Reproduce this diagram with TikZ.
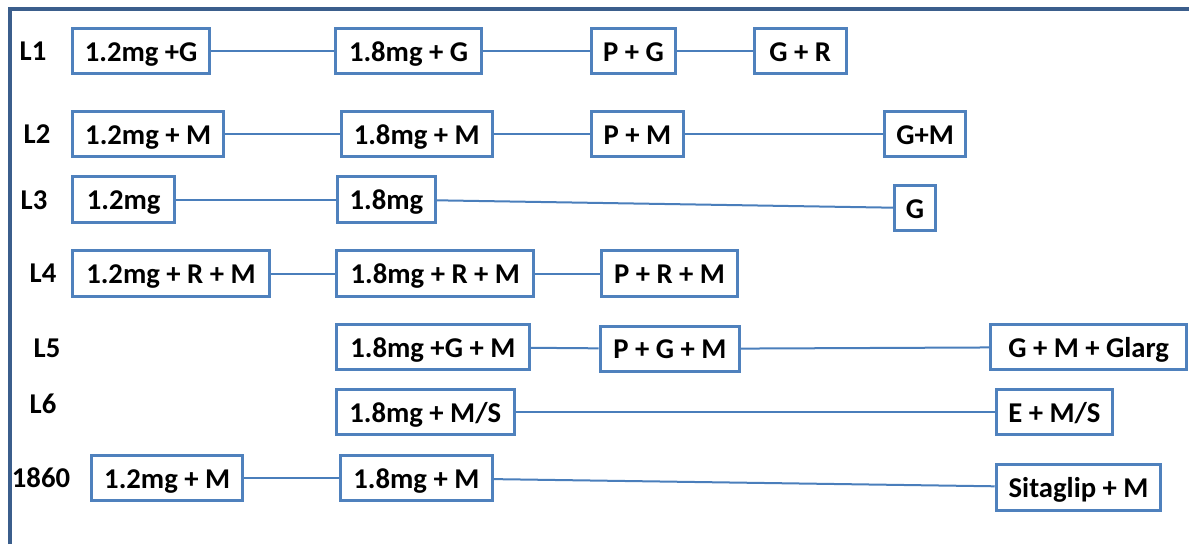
\documentclass[tikz,border=0pt]{standalone}
\usepackage{fontspec}
\setmainfont{Carlito}
\usepackage{tikz}
\usetikzlibrary{positioning}
\definecolor{boxblue}{HTML}{4F81BD}
\definecolor{lineblue}{HTML}{4A7EBB}
\definecolor{frameblue}{HTML}{3B5E8C}
\tikzset{
  dose/.style={draw=boxblue, line width=2.25pt, fill=white, minimum height=11.9mm,
               inner sep=0pt, text height=15pt, text depth=0pt, align=center,
               font=\bfseries\fontsize{21.5pt}{25pt}\selectfont},
  wd/.style={minimum width=#1mm},
  lbl/.style={inner sep=0pt, font=\bfseries\fontsize{21.5pt}{25pt}\selectfont},
  link/.style={draw=lineblue, line width=1.5pt},
  frame/.style={draw=frameblue, line width=3pt}
}

\begin{document}
\begin{tikzpicture}[x=0.75pt, y=-0.75pt]
    \useasboundingbox (0,0) rectangle (1189,544);
    \draw[frame] (10,544) -- (10,9) -- (1189,9);

    % row labels
    \node[lbl] (l1) at (33,51) {L1};
    \node[lbl] (l2) at (37,134) {L2};
    \node[lbl] (l3) at (34,200) {L3};
    \node[lbl] (l4) at (43,273) {L4};
    \node[lbl] (l5) at (47,348) {L5};
    \node[lbl] (l6) at (43,404) {L6};
    \node[lbl] (l7) at (41,478) {1860};

    % L1
    \node[dose, wd=36.2, anchor=west] (a1) at (71,51) {1.2mg +G};
    \node[dose, wd=38.4, right=32.4mm of a1] (b1) {1.8mg + G};
    \node[dose, wd=22.2, right=28.2mm of b1] (c1) {P + G};
    \node[dose, wd=24.3, right=19.9mm of c1] (d1) {G + R};

    % L2
    \node[dose, wd=39.9, anchor=west] (a2) at (71,134) {1.2mg + M};
    \node[dose, wd=39.9, right=30.1mm of a2] (b2) {1.8mg + M};
    \node[dose, wd=24.3, right=25.3mm of b2] (c2) {P + M};
    \node[dose, wd=21.4, right=52.2mm of c2] (d2) {G+M};

    % L3
    \node[dose, wd=27.0, anchor=west] (a3) at (71,199.5) {1.2mg};
    \node[dose, wd=25.9, right=42.0mm of a3] (b3) {1.8mg};
    \node[dose, wd=10.8, right=120.2mm of b3, yshift=-2.25mm] (c3) {G};

    % L4
    \node[dose, wd=51.9, anchor=west] (a4) at (71,273.5) {1.2mg + R + M};
    \node[dose, wd=51.9, right=17.0mm of a4] (b4) {1.8mg + R + M};
    \node[dose, wd=36.0, right=17.0mm of b4] (c4) {P + R + M};

    % L5
    \node[dose, wd=50.8, anchor=west] (b5) at (335,347) {1.8mg +G + M};
    \node[dose, wd=36.8, right=17.9mm of b5, yshift=-0.5mm] (c5) {P + G + M};
    \node[dose, wd=51.6, right=65.4mm of c5, yshift=0.5mm] (d5) {G + M + Glarg};

    % L6
    \node[dose, wd=46.8, anchor=west] (b6) at (335,412) {1.8mg + M/S};
    \node[dose, wd=30.7, right=126.3mm of b6] (d6) {E + M/S};

    % 1860
    \node[dose, wd=39.9, anchor=west] (a7) at (90,478) {1.2mg + M};
    \node[dose, wd=39.9, right=25.0mm of a7] (b7) {1.8mg + M};
    \node[dose, wd=43.4, right=132.1mm of b7, yshift=-2.5mm] (d7) {Sitaglip + M};

    \draw[link] (a1) -- (b1);
    \draw[link] (b1) -- (c1);
    \draw[link] (c1) -- (d1);
    \draw[link] (a2) -- (b2);
    \draw[link] (b2) -- (c2);
    \draw[link] (c2) -- (d2);
    \draw[link] (a3) -- (b3);
    \draw[link] (b3) -- (c3);
    \draw[link] (a4) -- (b4);
    \draw[link] (b4) -- (c4);
    \draw[link] (b5) -- (c5);
    \draw[link] (c5) -- (d5);
    \draw[link] (b6) -- (d6);
    \draw[link] (a7) -- (b7);
    \draw[link] (b7) -- (d7);
  \end{tikzpicture}
\end{document}
